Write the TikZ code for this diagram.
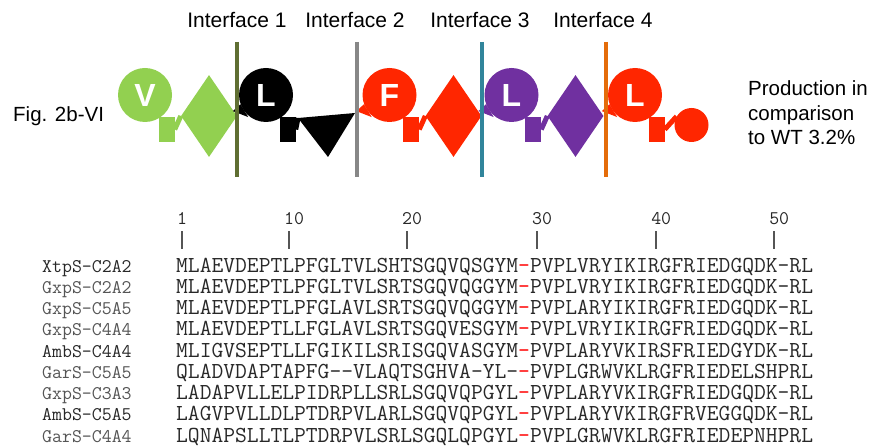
\documentclass[tikz,border=0pt]{standalone}
\usepackage{fontspec}
\setmainfont{Liberation Sans}
\setsansfont{Liberation Sans}
\usepackage{tikz}
\usetikzlibrary{shapes.geometric}

\definecolor{modgreen}{RGB}{146,208,80}
\definecolor{modred}{RGB}{255,38,0}
\definecolor{modpurple}{RGB}{112,48,160}
\definecolor{ifolive}{RGB}{95,110,50}
\definecolor{ifgrey}{RGB}{135,135,135}
\definecolor{ifteal}{RGB}{49,133,155}
\definecolor{iforange}{RGB}{228,108,10}
\definecolor{seqdark}{RGB}{40,40,40}
\definecolor{seqlight}{RGB}{85,85,85}

\newcommand{\redgap}{\textcolor{red}{-}}

\begin{document}
\begin{tikzpicture}[x=1pt,y=-1pt,
    adom/.style={circle,fill=#1,minimum size=54pt,inner sep=0pt,text=white,
      font=\sffamily\bfseries\fontsize{32}{32}\selectfont},
    tdom/.style={rectangle,fill=#1,minimum width=16pt,minimum height=25pt,inner sep=0pt},
    cdom/.style={diamond,fill=#1,minimum width=56pt,minimum height=82pt,inner sep=0pt},
    tedom/.style={circle,fill=#1,minimum size=34pt,inner sep=0pt},
    link/.style={draw=#1,line width=5pt},
    iface/.style={draw=#1,line width=3.2pt},
    iflabel/.style={anchor=base,inner sep=0pt,font=\sffamily\fontsize{21}{21}\selectfont},
    txt/.style={anchor=base west,inner sep=0pt,font=\sffamily\fontsize{20.5}{20.5}\selectfont},
    lab/.style={anchor=base west,inner sep=0pt,text=#1,font=\ttfamily\fontsize{19.3}{19.3}\selectfont},
    seq/.style={anchor=base west,inner sep=0pt,text=seqdark,font=\ttfamily\fontsize{22.9}{22.9}\selectfont},
    num/.style={anchor=base west,xshift=-4.96pt,inner sep=0pt,text=seqdark,font=\ttfamily\fontsize{19.3}{19.3}\selectfont},
    tick/.style={draw=seqlight,line width=1.1pt}]
\useasboundingbox (0,0) rectangle (874,446);

% module 1 (V)
\node[cdom=modgreen] (c1) at (209,116) {};
\node[tdom=modgreen] (t1) at (166.5,129.5) {};
\draw[link=modgreen] (t1.east) -- (c1.west);
\node[adom=modgreen] (a1) at (145,95) {V};

% module 2 (L), E domain
\coordinate (e2) at (298,118);
\fill (e2) -- (355,113) -- (328,157) -- cycle;
\node[tdom=black] (t2) at (287.5,129.5) {};
\draw[link=black] (t2.east) -- (e2);
\node[adom=black] (a2) at (266,95) {L};
\fill (a2.200) -- ++(-7.6,6.8) -- ++(15.4,6) -- cycle;

% module 3 (F)
\node[cdom=modred] (c3) at (453.5,116) {};
\node[tdom=modred] (t3) at (411,129.5) {};
\draw[link=modred] (t3.east) -- (c3.west);
\node[adom=modred] (a3) at (389.5,95) {F};
\fill[modred] (a3.200) -- ++(-7.6,6.8) -- ++(15.4,6) -- cycle;

% module 4 (L)
\node[cdom=modpurple] (c4) at (575.5,116) {};
\node[tdom=modpurple] (t4) at (533,129.5) {};
\draw[link=modpurple] (t4.east) -- (c4.west);
\node[adom=modpurple] (a4) at (511.5,95) {L};
\fill[modpurple] (a4.200) -- ++(-7.6,6.8) -- ++(15.4,6) -- cycle;

% module 5 (L) with TE
\node[tedom=modred] (te5) at (691.5,125) {};
\node[tdom=modred] (t5) at (656.5,129.5) {};
\draw[link=modred] (t5.east) -- (te5.150);
\node[adom=modred] (a5) at (635,95) {L};
\fill[modred] (a5.200) -- ++(-7.6,6.8) -- ++(15.4,6) -- cycle;

% interfaces
\draw[iface=ifolive] (237,42) -- (237,177);
\draw[iface=ifgrey] (357,42) -- (357,177);
\draw[iface=ifteal] (482,42) -- (482,177);
\draw[iface=iforange] (606,42) -- (606,177);
\node[iflabel] (if1) at (237,28) {Interface 1};
\node[iflabel] (if2) at (355,28) {Interface 2};
\node[iflabel] (if3) at (480,28) {Interface 3};
\node[iflabel] (if4) at (603,28) {Interface 4};

\node[txt] (fig) at (13,122) {Fig. 2b-VI};
\node[txt] (prod1) at (748,96) {Production in};
\node[txt] (prod2) at (748,120.5) {comparison};
\node[txt] (prod3) at (748,145) {to WT 3.2\%};

% numbering
\node[num] (n1) at (182,224) {1};
\node[num] (n10) at (289,224) {10};
\node[num] (n20) at (407,224) {20};
\node[num] (n30) at (537,224) {30};
\node[num] (n40) at (656,224) {40};
\node[num] (n50) at (774,224) {50};
\draw[tick] ([xshift=4.96pt]n1.base west) ++(0,7) -- ++(0,18);
\draw[tick] ([xshift=4.96pt]n10.base west) ++(0,7) -- ++(0,18);
\draw[tick] ([xshift=4.96pt]n20.base west) ++(0,7) -- ++(0,18);
\draw[tick] ([xshift=4.96pt]n30.base west) ++(0,7) -- ++(0,18);
\draw[tick] ([xshift=4.96pt]n40.base west) ++(0,7) -- ++(0,18);
\draw[tick] ([xshift=4.96pt]n50.base west) ++(0,7) -- ++(0,18);

% alignment
\node[lab=seqdark] (l1) at (42,272) {XtpS-C2A2};
\node[lab=seqlight] (l2) at (42,293.25) {GxpS-C2A2};
\node[lab=seqlight] (l3) at (42,314.5) {GxpS-C5A5};
\node[lab=seqlight] (l4) at (42,335.75) {GxpS-C4A4};
\node[lab=seqdark] (l5) at (42,357) {AmbS-C4A4};
\node[lab=seqlight] (l6) at (42,378.25) {GarS-C5A5};
\node[lab=seqlight] (l7) at (42,399.5) {GxpS-C3A3};
\node[lab=seqdark] (l8) at (42,420.75) {AmbS-C5A5};
\node[lab=seqlight] (l9) at (42,442) {GarS-C4A4};

\node[seq] (s1) at (176,272) {MLAEVDEPTLPFGLTVLSHTSGQVQSGYM\redgap PVPLVRYIKIRGFRIEDGQDK-RL};
\node[seq] (s2) at (176,293.25) {MLAEVDEPTLPFGLTVLSRTSGQVQGGYM\redgap PVPLVRYIKIRGFRIEDGQDK-RL};
\node[seq] (s3) at (176,314.5) {MLAEVDEPTLPFGLAVLSRTSGQVQGGYM\redgap PVPLARYIKIRGFRIEDGQDK-RL};
\node[seq] (s4) at (176,335.75) {MLAEVDEPTLLFGLAVLSRTSGQVESGYM\redgap PVPLVRYIKIRGFRIEDGQDK-RL};
\node[seq] (s5) at (176,357) {MLIGVSEPTLLFGIKILSRISGQVASGYM\redgap PVPLARYVKIRSFRIEDGYDK-RL};
\node[seq] (s6) at (176,378.25) {QLADVDAPTAPFG-{}-VLAQTSGHVA-YL-\redgap PVPLGRWVKLRGFRIEDELSHPRL};
\node[seq] (s7) at (176,399.5) {LADAPVLLELPIDRPLLSRLSGQVQPGYL\redgap PVPLARYVKIRGFRIEDGQDK-RL};
\node[seq] (s8) at (176,420.75) {LAGVPVLLDLPTDRPVLARLSGQVQPGYL\redgap PVPLARYVKIRGFRVEGGQDK-RL};
\node[seq] (s9) at (176,442) {LQNAPSLLTLPTDRPVLSRLSGQLQPGYL\redgap PVPLGRWVKLRGFRIEDEPNHPRL};
\end{tikzpicture}
\end{document}
